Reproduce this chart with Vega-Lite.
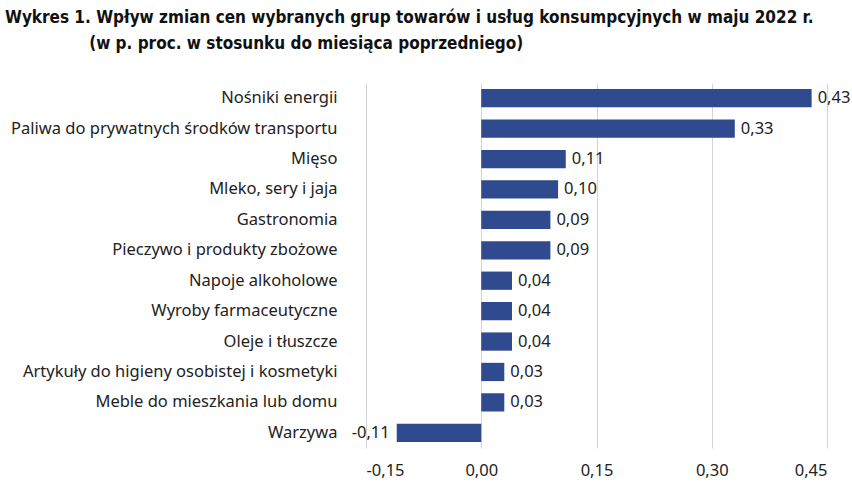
{
  "$schema": "https://vega.github.io/schema/vega-lite/v6.json",
  "width": 461,
  "height": 365,
  "autosize": {"type": "none"},
  "padding": {"left": 366, "top": 83, "right": 25, "bottom": 36},
  "background": "white",
  "config": {
    "locale": {"number": {"decimal": ",", "thousands": " ", "grouping": [3], "currency": ["", " zł"], "minus": "-"}},
    "view": {"stroke": null},
    "font": "Noto Sans"
  },
  "title": {
    "text": ["Wykres 1. Wpływ zmian cen wybranych grup towarów i usług konsumpcyjnych w maju 2022 r.", "\u200b\u2003\u2003\u2003\u2003\u2003\u2002(w p. proc. w stosunku do miesiąca poprzedniego)"],
    "anchor": "start",
    "frame": "group",
    "dx": -361,
    "offset": 30,
    "font": "DejaVu Sans Condensed",
    "fontSize": 17,
    "fontWeight": "bold",
    "color": "#111111",
    "lineHeight": 26
  },
  "data": {
    "values": [
      {"k": "Nośniki energii", "v": 0.43},
      {"k": "Paliwa do prywatnych środków transportu", "v": 0.33},
      {"k": "Mięso", "v": 0.11},
      {"k": "Mleko, sery i jaja", "v": 0.10},
      {"k": "Gastronomia", "v": 0.09},
      {"k": "Pieczywo i produkty zbożowe", "v": 0.09},
      {"k": "Napoje alkoholowe", "v": 0.04},
      {"k": "Wyroby farmaceutyczne", "v": 0.04},
      {"k": "Oleje i tłuszcze", "v": 0.04},
      {"k": "Artykuły do higieny osobistej i kosmetyki", "v": 0.03},
      {"k": "Meble do mieszkania lub domu", "v": 0.03},
      {"k": "Warzywa", "v": -0.11}
    ]
  },
  "encoding": {
    "y": {
      "field": "k", "type": "nominal", "sort": null, "title": null,
      "scale": {"paddingInner": 0.4, "paddingOuter": 0.2},
      "axis": {"domain": false, "ticks": false, "labelPadding": 29, "labelFontSize": 16.5, "labelColor": "#222222", "labelFont": "Noto Sans", "labelLimit": 400}
    },
    "x": {
      "field": "v", "type": "quantitative", "title": null,
      "scale": {"domain": [-0.15, 0.45], "nice": false, "zero": false},
      "axis": {"values": [-0.15, 0, 0.15, 0.3, 0.45], "format": ".2f", "domain": false, "ticks": false, "grid": true, "gridColor": "#d4d4d4", "gridWidth": 1, "labelFontSize": 16.5, "labelColor": "#222222", "labelPadding": 14, "labelFont": "Noto Sans"}
    }
  },
  "layer": [
    {"mark": {"type": "bar", "color": "#2f4a8f"}},
    {
      "transform": [{"filter": "datum.v >= 0"}],
      "mark": {"type": "text", "align": "left", "dx": 6, "fontSize": 16.5, "color": "#222222"},
      "encoding": {"text": {"field": "v", "type": "quantitative", "format": ".2f"}}
    },
    {
      "transform": [{"filter": "datum.v < 0"}],
      "mark": {"type": "text", "align": "right", "dx": -7, "fontSize": 16.5, "color": "#222222"},
      "encoding": {"text": {"field": "v", "type": "quantitative", "format": ".2f"}}
    }
  ]
}
